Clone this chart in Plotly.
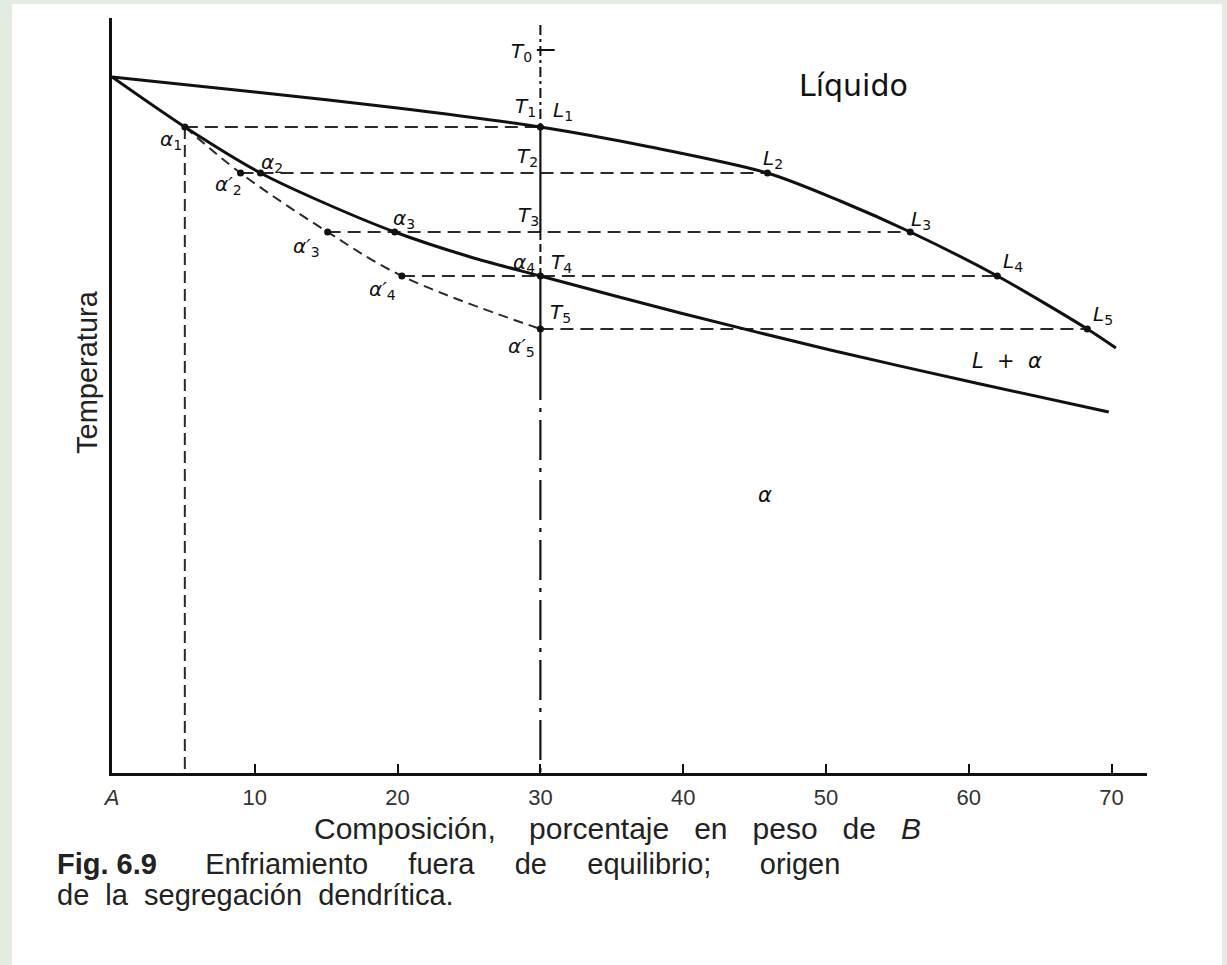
import plotly.graph_objects as go

# ---------------- data (temperature in arbitrary units) ----------------
liq_x = [0, 10, 20, 30, 37.7, 45.9, 51.0, 55.9, 62.0, 68.3, 70.3]
liq_y = [696, 681, 665, 646, 626, 600, 572, 541, 497, 444, 425]

sol_x = [0, 5.1, 10.4, 14.4, 19.8, 25.1, 30.0, 39.8, 50.3, 60.8, 69.8]
sol_y = [696, 646, 600, 573, 541, 516, 497, 460, 423, 389, 361]

T_levels = [646, 600, 541, 497, 444]          # T1..T5
T0 = 723
T_top = 748
alloy_x = 30

L_pts_x = [30.0, 45.9, 55.9, 62.0, 68.3]        # L1..L5
a_eq_pts_x = [5.1, 10.4, 19.8, 30.0]            # a1..a4 (equilibrium solidus)
a_ne_pts_x = [5.1, 9.0, 15.1, 20.3, 30.0]       # a1, a2'..a5' (non-equilibrium)

tick_vals = [0, 10, 20, 30, 40, 50, 60, 70]
tick_text = ["<i>A</i>", "10", "20", "30", "40", "50", "60", "70"]

INK = "#111111"
DASH_INK = "#2a2a2a"

fig = go.Figure()

# tie lines (horizontal dashed)
tx, ty = [], []
for xs, xe, t in zip(a_ne_pts_x, L_pts_x, T_levels):
    tx += [xs, xe, None]
    ty += [t, t, None]
fig.add_trace(go.Scatter(x=tx, y=ty, mode="lines",
                         line=dict(color=DASH_INK, width=2, dash="13px,7px"),
                         hoverinfo="skip", showlegend=False))

# vertical dashed line at a1 composition
fig.add_trace(go.Scatter(x=[a_ne_pts_x[0], a_ne_pts_x[0]], y=[T_levels[0], 0], mode="lines",
                         line=dict(color=DASH_INK, width=2, dash="12px,6px"),
                         hoverinfo="skip", showlegend=False))

# vertical alloy line (x = 30) in segments
below_T5 = 413
segments = [
    ([T_top, T_levels[0]], "10px,4px,3px,4px", 2),
    ([T_levels[0], T_levels[2]], "solid", 2.2),
    ([T_levels[2], T_levels[3]], "8px,4px", 2),
    ([T_levels[3], below_T5], "solid", 2.2),
    ([below_T5, 0], "40px,8px,4px,8px", 2.2),
]
for ys, dash, w in segments:
    fig.add_trace(go.Scatter(x=[alloy_x, alloy_x], y=ys, mode="lines",
                             line=dict(color=INK, width=w, dash=dash),
                             hoverinfo="skip", showlegend=False))
# T0 tick
fig.add_trace(go.Scatter(x=[alloy_x - 0.25, alloy_x + 1.0], y=[T0, T0], mode="lines",
                         line=dict(color=INK, width=2), hoverinfo="skip", showlegend=False))

# non-equilibrium solidus (dashed)
fig.add_trace(go.Scatter(x=a_ne_pts_x, y=T_levels, mode="lines",
                         line=dict(color=DASH_INK, width=2, dash="10px,6px", shape="spline"),
                         hoverinfo="skip", showlegend=False))

# liquidus and solidus
fig.add_trace(go.Scatter(x=liq_x, y=liq_y, mode="lines",
                         line=dict(color=INK, width=3, shape="spline", smoothing=0.8),
                         hoverinfo="skip", showlegend=False))
fig.add_trace(go.Scatter(x=sol_x, y=sol_y, mode="lines",
                         line=dict(color=INK, width=3, shape="spline", smoothing=0.8),
                         hoverinfo="skip", showlegend=False))

# points
px_ = L_pts_x + a_eq_pts_x + a_ne_pts_x[1:]
py_ = T_levels + T_levels[:4] + T_levels[1:]
fig.add_trace(go.Scatter(x=px_, y=py_, mode="markers",
                         marker=dict(color=INK, size=7), hoverinfo="skip", showlegend=False))

# ---------------- point labels ----------------
def lab(x, y, text, xs, ys, size=20):
    fig.add_annotation(x=x, y=y, text=text, showarrow=False, xshift=xs, yshift=ys,
                       xanchor="center", yanchor="middle",
                       font=dict(family="DejaVu Sans", size=size, color=INK))

lab(alloy_x, T0, "<i>T</i><sub>0</sub>", -19, -2)
lab(alloy_x, T_levels[0], "<i>T</i><sub>1</sub>", -15, 20)
lab(L_pts_x[0], T_levels[0], "<i>L</i><sub>1</sub>", 23, 16)
lab(alloy_x, T_levels[1], "<i>T</i><sub>2</sub>", -13, 16)
lab(L_pts_x[1], T_levels[1], "<i>L</i><sub>2</sub>", 6, 14)
lab(alloy_x, T_levels[2], "<i>T</i><sub>3</sub>", -12, 16)
lab(L_pts_x[2], T_levels[2], "<i>L</i><sub>3</sub>", 11, 12)
lab(a_eq_pts_x[3], T_levels[3], "<i>α</i><sub>4</sub>", -16, 13)
lab(alloy_x, T_levels[3], "<i>T</i><sub>4</sub>", 21, 13)
lab(L_pts_x[3], T_levels[3], "<i>L</i><sub>4</sub>", 16, 14)
lab(alloy_x, T_levels[4], "<i>T</i><sub>5</sub>", 20, 16)
lab(L_pts_x[4], T_levels[4], "<i>L</i><sub>5</sub>", 16, 14)
lab(a_ne_pts_x[4], T_levels[4], "<i>α′</i><sub>5</sub>", -19, -18)
lab(a_ne_pts_x[3], T_levels[3], "<i>α′</i><sub>4</sub>", -19, -14)
lab(a_ne_pts_x[2], T_levels[2], "<i>α′</i><sub>3</sub>", -21, -15)
lab(a_eq_pts_x[2], T_levels[2], "<i>α</i><sub>3</sub>", 9, 13)
lab(a_eq_pts_x[1], T_levels[1], "<i>α</i><sub>2</sub>", 11, 10)
lab(a_ne_pts_x[1], T_levels[1], "<i>α′</i><sub>2</sub>", -12, -12)
lab(a_eq_pts_x[0], T_levels[0], "<i>α</i><sub>1</sub>", -14, -13)

# region labels
fig.add_annotation(x=51.9, y=688, text="Líquido", showarrow=False,
                   xanchor="center", yanchor="middle",
                   font=dict(family="DejaVu Sans", size=30, color=INK))
fig.add_annotation(x=62.7, y=412, text="<i>L  +  α</i>", showarrow=False,
                   xanchor="center", yanchor="middle",
                   font=dict(family="DejaVu Sans", size=21, color=INK))
fig.add_annotation(x=45.7, y=278, text="<i>α</i>", showarrow=False,
                   xanchor="center", yanchor="middle",
                   font=dict(family="DejaVu Sans", size=21, color=INK))

# ---------------- titles / caption (paper coordinates) ----------------
L, R, T, B = 112, 80, 18, 192
W, H = 1227, 965
pw, ph = W - L - R, H - T - B
def pxx(px): return (px - L) / pw
def pxy(py): return (H - B - py) / ph

def spaced(words, gaps):
    out = words[0]
    for w, g in zip(words[1:], gaps):
        out += " " * g + w
    return out

fig.add_annotation(xref="paper", yref="paper", x=pxx(617), y=pxy(828),
                   xanchor="center", yanchor="middle",
                   text=spaced(["Composición,", "porcentaje", "en", "peso", "de", "<i>B</i>"],
                               [4, 3, 3, 3, 3]),
                   showarrow=False,
                   font=dict(family="Liberation Sans", size=30, color="#222"))
fig.add_annotation(xref="paper", yref="paper", x=pxx(87), y=pxy(372), textangle=-90,
                   xanchor="center", yanchor="middle",
                   text="Temperatura", showarrow=False,
                   font=dict(family="Liberation Sans", size=29, color="#222"))
fig.add_annotation(xref="paper", yref="paper", x=pxx(55), y=pxy(864),
                   xanchor="left", yanchor="middle",
                   text=spaced(["<b>Fig. 6.9</b>", "Enfriamiento", "fuera", "de",
                                "equilibrio;", "origen"], [6, 5, 5, 5, 6]),
                   showarrow=False, font=dict(family="Liberation Sans", size=29, color="#222"))
fig.add_annotation(xref="paper", yref="paper", x=pxx(55), y=pxy(895),
                   xanchor="left", yanchor="middle",
                   text=spaced(["de", "la", "segregación", "dendrítica."], [2, 2, 2]),
                   showarrow=False, font=dict(family="Liberation Sans", size=29, color="#222"))

# white page area over light-green slide background
fig.add_shape(type="rect", xref="paper", yref="paper", layer="below",
              x0=pxx(12), x1=pxx(1222), y0=pxy(990), y1=pxy(4),
              fillcolor="white", line=dict(width=0))

fig.update_layout(
    width=W, height=H,
    margin=dict(l=L, r=R, t=T, b=B),
    paper_bgcolor="#e3ece3", plot_bgcolor="white",
    xaxis=dict(range=[0, pw / 14.28], showgrid=False, zeroline=False,
               showline=True, linecolor=INK, linewidth=3,
               ticks="inside", ticklen=9, tickwidth=2, tickcolor=INK,
               tickvals=tick_vals, ticktext=tick_text, ticklabelstandoff=3,
               tickfont=dict(family="Liberation Sans", size=22, color="#333")),
    yaxis=dict(range=[0, ph], showgrid=False, zeroline=False,
               showline=True, linecolor=INK, linewidth=3, showticklabels=False, ticks=""),
    showlegend=False,
)

fig.write_html("out.html")
